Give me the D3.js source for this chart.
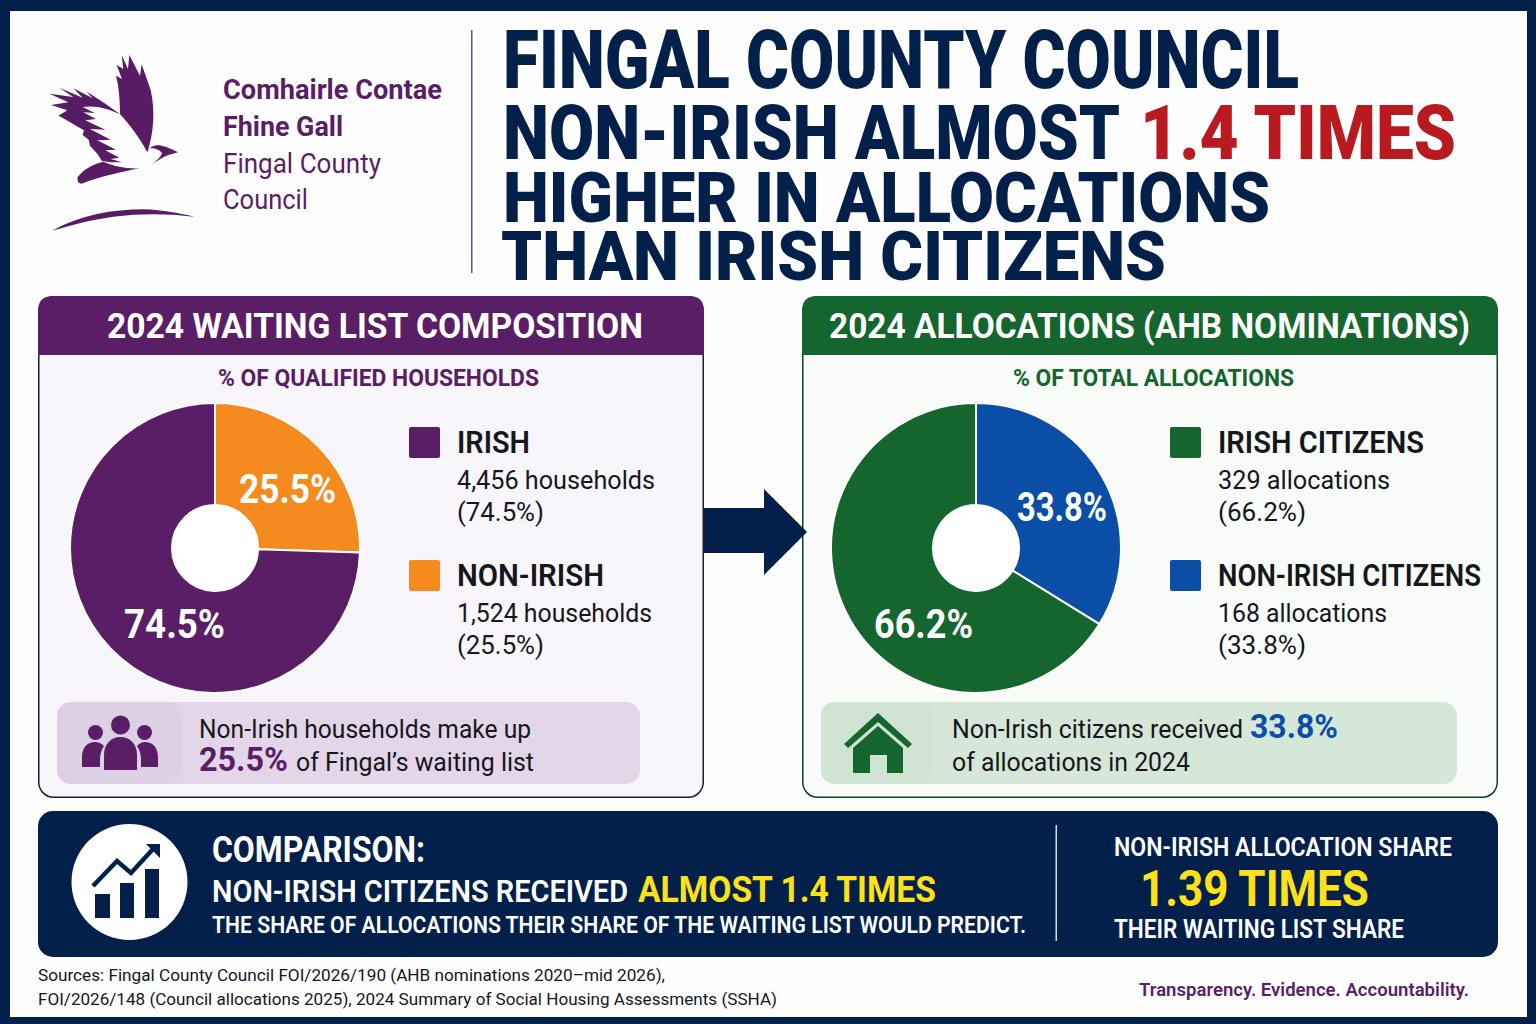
<!DOCTYPE html>
<html>
<head>
<meta charset="utf-8">
<script src="https://cdn.jsdelivr.net/npm/d3@7"></script>
<style>
  html, body { margin: 0; padding: 0; background: #fff; }
  svg { display: block; }
  text { font-family: Roboto, sans-serif; }
</style>
</head>
<body>
<div id="chart"></div>
<script>
// chart values
// the slices use the printed shares; the reference draws its blue slice a little wider than 33.8%
var waitingNames = ["NON-IRISH", "IRISH"];
var waitingCounts = [1524, 4456];
var waitingShares = [25.5, 74.5];
var allocationNames = ["NON-IRISH CITIZENS", "IRISH CITIZENS"];
var allocationCounts = [168, 329];
var allocationShares = [33.8, 66.2];
var shareRatio = 1.39;

var navy = "#03204a", purple = "#5a1e66", orange = "#f58a1f", green = "#14662e", blue = "#0b4ea6", yellow = "#ffe119", ink = "#15171c";
var fmt = d3.format(",");

var svg = d3.select("#chart").append("svg").attr("width", 1536).attr("height", 1024);

// text helper: x, baseline, string, size, weight, colour, and the width it must fill
function label(g, x, y, str, size, weight, fill, width, anchor) {
  var t = g.append("text")
    .attr("x", x).attr("y", y)
    .attr("font-size", size).attr("font-weight", weight).attr("fill", fill)
    .attr("text-anchor", anchor || "start")
    .text(str);
  if (width) t.attr("textLength", width).attr("lengthAdjust", "spacingAndGlyphs");
  return t;
}

// page frame
svg.append("rect").attr("width", 1536).attr("height", 1024).attr("fill", navy);
svg.append("rect").attr("x", 10).attr("y", 11).attr("width", 1517).attr("height", 1006).attr("fill", "#fefefe");

// logo, traced in the coordinates of a 3x crop
var logo = svg.append("g").attr("transform", "translate(40,45) scale(0.3333)").attr("fill", "#581c64");
logo.append("path").attr("d", "M322,322 C340,270 347,200 332,135 L305,58 L300,92 L268,30 L264,72 L245,30 L250,72 L230,60 L246,102 L228,92 C238,130 240,170 240,208 C270,240 300,280 322,322 Z");
logo.append("path").attr("d", "M240,208 C210,185 180,165 140,140 L158,160 L100,130 L128,158 L58,128 L100,156 L28,146 L85,172 L33,180 L82,196 L55,212 C80,225 105,240 132,256 L128,270 L146,284 L150,302 L172,326 L186,348 L214,352 L246,352 L212,342 L238,338 L196,316 L228,314 L172,286 L212,284 L150,252 L196,254 L136,226 L168,222 L130,202 L164,204 L128,186 C165,180 205,190 240,208 Z");
logo.append("path").attr("d", "M114,412 L112,398 C125,380 145,362 190,350 C215,362 260,372 298,370 C250,380 190,392 124,416 Z");
logo.append("path").attr("d", "M322,322 C328,305 345,298 365,302 C385,306 400,315 414,322 L385,330 C365,338 345,352 324,366 C345,352 362,338 366,324 C358,312 340,308 330,310 Z");
var swoosh = svg.append("g").attr("transform", "scale(0.3333)").attr("fill", "#581c64");
swoosh.append("path").attr("d", "M156,692 C240,645 340,628 430,628 C490,630 540,640 582,650 C500,640 420,640 340,650 C280,658 215,675 156,692 Z");

label(svg, 223, 99, "Comhairle Contae", 28, 700, purple, 219).attr("font-family", "Open Sans");
label(svg, 223, 136, "Fhine Gall", 28, 700, purple, 120).attr("font-family", "Open Sans");
label(svg, 223, 173, "Fingal County", 28, 400, purple, 158).attr("font-family", "Open Sans");
label(svg, 223, 209, "Council", 28, 400, purple, 85).attr("font-family", "Open Sans");
svg.append("rect").attr("x", 471).attr("y", 30).attr("width", 1.5).attr("height", 243).attr("fill", "#4a5f85");

// headline
label(svg, 503, 88, "FINGAL COUNTY COUNCIL", 82, 900, navy, 796);
label(svg, 503, 159, "NON-IRISH ALMOST", 76, 900, navy, 617);
label(svg, 1140, 159, d3.format(".1f")(shareRatio) + " TIMES", 76, 900, "#b81a1f", 316);
label(svg, 503, 222, "HIGHER IN ALLOCATIONS", 70, 900, navy, 767);
label(svg, 501, 280, "THAN IRISH CITIZENS", 68, 900, navy, 665);

// the two panels
function drawPanel(p) {
  var g = svg.append("g");
  g.append("rect").attr("x", p.x + 0.75).attr("y", 296.75).attr("width", p.w - 1.5).attr("height", 500.5)
    .attr("rx", 15).attr("fill", p.bg).attr("stroke", p.border).attr("stroke-width", 1.5);
  // header with rounded top corners
  var r = 15, x0 = p.x, x1 = p.x + p.w;
  g.append("path")
    .attr("d", d3.line()([[x0, 355], [x0, 296 + r]]) + "Q" + x0 + ",296 " + (x0 + r) + ",296L" + (x1 - r) + ",296Q" + x1 + ",296 " + x1 + "," + (296 + r) + "L" + x1 + ",355Z")
    .attr("fill", p.color);
  label(g, p.headX, 338, p.title, 35, 700, "#fff", p.headW);
  label(g, p.subX, 386, p.sub, 23, 700, p.subColor, p.subW);

  // donut
  var pie = d3.pie().sort(null).value(function (d) { return d; });
  var arc = d3.arc().innerRadius(43).outerRadius(p.radius);
  var donut = g.append("g").attr("transform", "translate(" + p.cx + ",548)");
  donut.append("circle").attr("r", 43).attr("fill", "#fff");
  donut.selectAll("path")
    .data(pie(p.shares))
    .enter().append("path")
      .attr("d", arc)
      .attr("fill", function (d, i) { return p.sliceColors[i]; })
      .attr("stroke", "#fff")
      .attr("stroke-width", 2);
  p.shares.forEach(function (s, i) {
    label(g, p.pctPos[i][0], p.pctPos[i][1], s + "%", 41, 700, "#fff", p.pctW[i]);
  });

  // legend, Irish first as in the picture
  [1, 0].forEach(function (i, row) {
    var top = row === 0 ? 427 : 560;
    g.append("rect").attr("x", p.legX).attr("y", top).attr("width", 31).attr("height", 31).attr("rx", 2).attr("fill", p.sliceColors[i]);
    label(g, p.legX + 48, top + 26, p.names[i], 31, 600, ink, p.nameW[i]);
    label(g, p.legX + 48, top + 62, fmt(p.counts[i]) + " " + p.unit, 26, 400, ink, p.countW[i]);
    label(g, p.legX + 48, top + 94, "(" + p.shares[i] + "%)", 26, 400, ink, p.legPctW);
  });

  // callout
  g.append("rect").attr("x", p.boxX).attr("y", 702).attr("width", p.boxW).attr("height", 82).attr("rx", 14).attr("fill", p.boxBg);
  g.append("rect").attr("x", p.boxX).attr("y", 702).attr("width", p.iconEnd - p.boxX).attr("height", 82).attr("rx", 14).attr("fill", p.iconBg);
  return g;
}

var left = drawPanel({
  x: 38, w: 666, bg: "#f8f6fa", border: "#25182a", color: purple, subColor: purple,
  title: "2024 WAITING LIST COMPOSITION", headX: 107, headW: 536,
  sub: "% OF QUALIFIED HOUSEHOLDS", subX: 218, subW: 321,
  cx: 215, radius: 145, shares: waitingShares, sliceColors: [orange, purple],
  pctPos: [[239, 503], [124, 638]], pctW: [97, 101],
  names: waitingNames, counts: waitingCounts, unit: "households",
  legX: 409, nameW: [147, 73], countW: [195, 198], legPctW: 87,
  boxX: 57, boxW: 583, iconEnd: 181, boxBg: "#e2d6e8", iconBg: "#ddd0e4"
});
var right = drawPanel({
  x: 802, w: 696, bg: "#f8fbf8", border: "#123f20", color: green, subColor: green,
  title: "2024 ALLOCATIONS (AHB NOMINATIONS)", headX: 829, headW: 641,
  sub: "% OF TOTAL ALLOCATIONS", subX: 1013, subW: 281,
  cx: 976, radius: 145, shares: allocationShares, sliceColors: [blue, green],
  pctPos: [[1017, 521], [874, 638]], pctW: [90, 99],
  names: allocationNames, counts: allocationCounts, unit: "allocations",
  legX: 1170, nameW: [263, 206], countW: [169, 172], legPctW: 88,
  boxX: 821, boxW: 636, iconEnd: 932, boxBg: "#d5e7d8", iconBg: "#d0e4d3"
});

// callout texts
label(left, 199, 738, "Non-Irish households make up", 26, 400, ink, 332);
label(left, 199, 771, waitingShares[0] + "%", 33, 700, purple, 89);
label(left, 296, 771, "of Fingal\u2019s waiting list", 26, 400, ink, 238);
label(right, 952, 738, "Non-Irish citizens received", 26, 400, ink, 291);
label(right, 1250, 738, allocationShares[0] + "%", 33, 700, blue, 88);
label(right, 952, 771, "of allocations in 2024", 26, 400, ink, 238);

// people icon
var people = left.append("g").attr("fill", purple);
people.append("circle").attr("cx", 120.5).attr("cy", 725).attr("r", 9.5);
people.append("circle").attr("cx", 95.5).attr("cy", 732.5).attr("r", 7.5);
people.append("circle").attr("cx", 144.5).attr("cy", 732.5).attr("r", 7.5);
people.append("path").attr("d", "M82,767 V757 C82,747 88,742 95,742 C99,742 102,744 104,746 C101,750 100,755 100,760 V767 Z");
people.append("path").attr("d", "M158,767 V757 C158,747 152,742 145,742 C141,742 139,744 137,746 C140,750 141,755 141,760 V767 Z");
people.append("path").attr("d", "M104,770 V755 C104,744 111,737 120.5,737 C130,737 137,744 137,755 V770 Z");

// house icon
var house = right.append("g");
house.append("path").attr("d", "M878,713 L912,744 L908,748 L878,722 L848,748 L844,744 Z").attr("fill", green);
house.append("path").attr("fill-rule", "evenodd").attr("d", "M878,726 L903,748 V773 H853 V748 Z M870,773 H887 V755 H870 Z").attr("fill", green);

// arrow between panels
svg.append("path").attr("d", "M704,508 H764 V489 L807,532 L764,575 V553 H704 Z").attr("fill", navy);

// comparison banner
var band = svg.append("g");
band.append("rect").attr("x", 38).attr("y", 811).attr("width", 1460).attr("height", 146).attr("rx", 15).attr("fill", navy);
band.append("circle").attr("cx", 129.5).attr("cy", 882).attr("r", 58).attr("fill", "#fff");
var trend = [[95, 894, 15, 24], [120, 883, 14, 35], [145, 869, 14, 49]];
trend.forEach(function (b) {
  band.append("rect").attr("x", b[0]).attr("y", b[1]).attr("width", b[2]).attr("height", b[3]).attr("fill", navy);
});
band.append("path").attr("d", "M93,886 L117,861 L131,873 L153,849").attr("fill", "none").attr("stroke", navy).attr("stroke-width", 4.5);
band.append("path").attr("d", "M146,844 H160 V858 Z").attr("fill", navy);

label(band, 212, 862, "COMPARISON:", 36, 700, "#fff", 213);
label(band, 212, 902, "NON-IRISH CITIZENS RECEIVED", 32, 600, "#fff", 416);
label(band, 638, 902, "ALMOST 1.4 TIMES", 37, 700, yellow, 298);
label(band, 212, 933, "THE SHARE OF ALLOCATIONS THEIR SHARE OF THE WAITING LIST WOULD PREDICT.", 24, 600, "#fff", 814);
band.append("rect").attr("x", 1055.5).attr("y", 825).attr("width", 1.5).attr("height", 116).attr("fill", "#d8dde6");
label(band, 1114, 856, "NON-IRISH ALLOCATION SHARE", 26, 600, "#fff", 338);
label(band, 1140, 906, shareRatio + " TIMES", 50, 700, yellow, 229);
label(band, 1114, 938, "THEIR WAITING LIST SHARE", 26, 600, "#fff", 290);

// footer
label(svg, 38, 981, "Sources: Fingal County Council FOI/2026/190 (AHB nominations 2020\u2013mid 2026),", 17, 400, ink, 627);
label(svg, 38, 1005, "FOI/2026/148 (Council allocations 2025), 2024 Summary of Social Housing Assessments (SSHA)", 17, 400, ink, 739);
label(svg, 1139, 996, "Transparency. Evidence. Accountability.", 19, 600, purple, 330);
</script>
</body>
</html>
